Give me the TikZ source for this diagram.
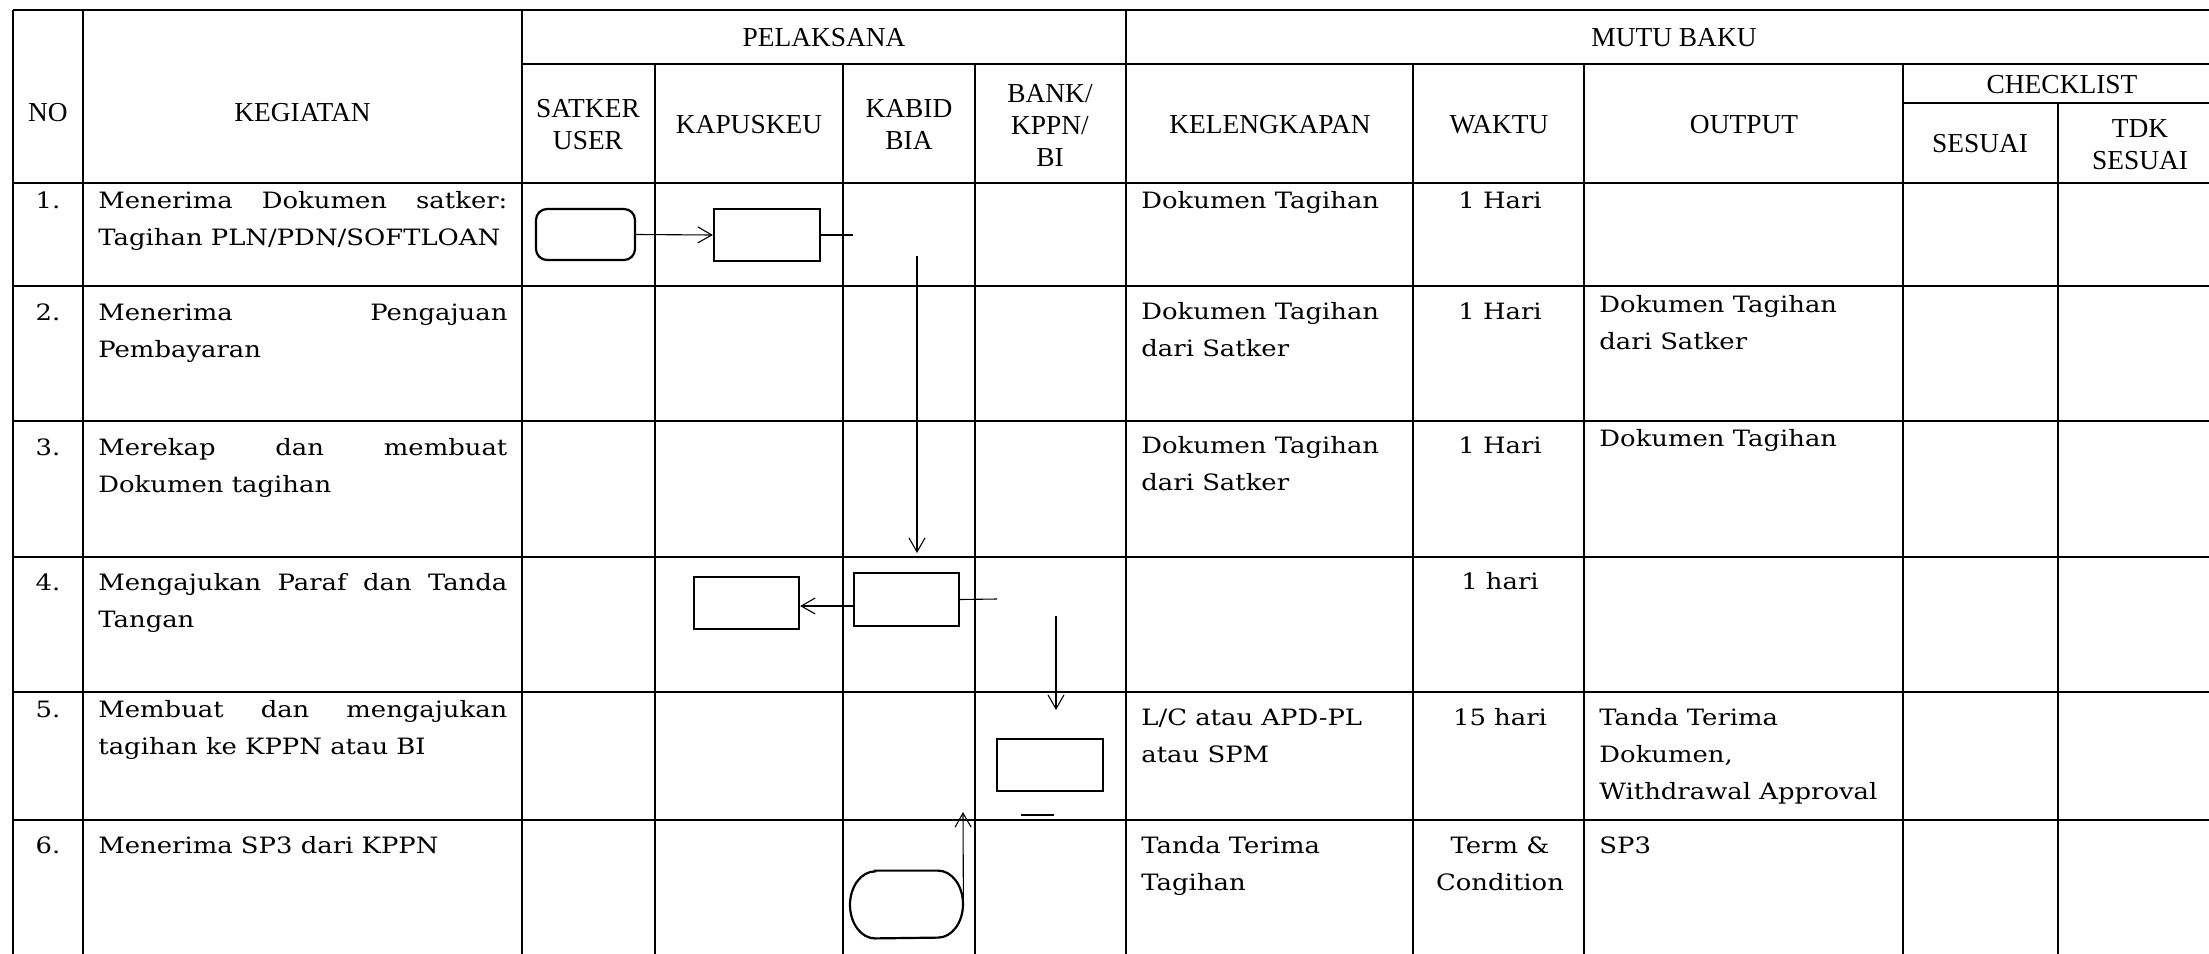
\documentclass[tikz,border=0pt]{standalone}
\usepackage{fontspec}
\setmainfont{Liberation Serif}
\newfontfamily\bodyf[FakeStretch=1.15]{DejaVu Serif}
\usetikzlibrary{arrows.meta,calc}
\newcommand{\hdf}{\fontsize{13.7}{16}\selectfont}
\newcommand{\bdf}{\bodyf\fontsize{11.25}{18.5}\selectfont}
\newcommand{\lcell}[1]{\vtop{\halign{##\hfil\cr#1\crcr}}}
\newcommand{\ccell}[1]{\vtop{\halign{\hfil##\hfil\cr#1\crcr}}}
\begin{document}
\begin{tikzpicture}[x=0.5pt,y=0.5pt,
  hd/.style={font=\hdf, inner sep=0pt, anchor=base},
  bd/.style={font=\bdf, inner sep=0pt, anchor=base west},
  bdc/.style={font=\bdf, inner sep=0pt, anchor=base},
  tline/.style={line width=0.7pt},
  pbox/.style={draw, line width=1.1pt, inner sep=0pt},
  conn/.style={line width=0.55pt},
  arr/.style={conn, -{Straight Barb[length=7pt,width=8pt]}}]
\useasboundingbox (0,0) rectangle (2209,-953);
\clip (0,0) rectangle (2209,-953);
% grid
\draw[tline] (13,-10) -- (2240,-10);
\draw[tline] (522,-64) -- (2240,-64);
\draw[tline] (1903,-103) -- (2240,-103);
\foreach \y in {183,286,421,557,692,820} \draw[tline] (13,-\y) -- (2240,-\y);
\foreach \x in {13,83,522,1126} \draw[tline] (\x,-10) -- (\x,-970);
\foreach \x in {655,843,975,1413,1584,1903} \draw[tline] (\x,-64) -- (\x,-970);
\draw[tline] (2058,-103) -- (2058,-970);
% headers
\node[hd] (hno) at (48,-121) {NO};
\node[hd] (hkeg) at (302.5,-121) {KEGIATAN};
\node[hd] (hpel) at (824,-46) {PELAKSANA};
\node[hd] (hsat) at (588,-117) {\ccell{SATKER\cr USER}};
\node[hd] (hkap) at (749,-133) {KAPUSKEU};
\node[hd] (hkab) at (909,-117) {\ccell{KABID\cr BIA}};
\node[hd] (hbank) at (1050,-102) {\ccell{BANK/\cr KPPN/\cr BI}};
\node[hd] (hmutu) at (1674,-46) {MUTU BAKU};
\node[hd] (hkel) at (1270,-133) {KELENGKAPAN};
\node[hd] (hwak) at (1499,-133) {WAKTU};
\node[hd] (hout) at (1744,-133) {OUTPUT};
\node[hd] (hchk) at (2062,-93) {CHECKLIST};
\node[hd] (hses) at (1980,-152) {SESUAI};
\node[hd] (htdk) at (2140,-137) {\ccell{TDK\cr SESUAI}};
% numbers
\node[bdc] (n1) at (48,-208) {1.};
\node[bdc] (n2) at (48,-320) {2.};
\node[bdc] (n3) at (48,-455) {3.};
\node[bdc] (n4) at (48,-590) {4.};
\node[bdc] (n5) at (48,-717) {5.};
\node[bdc] (n6) at (48,-853) {6.};
% kegiatan
\node[bd] (g1) at (98,-208) {\lcell{\hbox to 204.5pt{Menerima\hfill Dokumen\hfill satker:}\cr Tagihan PLN/PDN/SOFTLOAN}};
\node[bd] (g2) at (98,-320) {\lcell{\hbox to 204.5pt{Menerima\hfill Pengajuan}\cr Pembayaran}};
\node[bd] (g3) at (98,-455) {\lcell{\hbox to 204.5pt{Merekap\hfill dan\hfill membuat}\cr Dokumen tagihan}};
\node[bd] (g4) at (98,-590) {\lcell{\hbox to 204.5pt{Mengajukan\hfill Paraf\hfill dan\hfill Tanda}\cr Tangan}};
\node[bd] (g5) at (98,-717) {\lcell{\hbox to 204.5pt{Membuat\hfill dan\hfill mengajukan}\cr tagihan ke KPPN atau BI}};
\node[bd] (g6) at (98,-853) {Menerima SP3 dari KPPN};
% kelengkapan
\node[bd] (l1) at (1141,-208) {Dokumen Tagihan};
\node[bd] (l2) at (1141,-319) {\lcell{Dokumen Tagihan\cr dari Satker}};
\node[bd] (l3) at (1141,-453) {\lcell{Dokumen Tagihan\cr dari Satker}};
\node[bd] (l5) at (1141,-725) {\lcell{L/C atau APD-PL\cr atau SPM}};
\node[bd] (l6) at (1141,-853) {\lcell{Tanda Terima\cr Tagihan}};
% waktu
\node[bdc] (w1) at (1500,-208) {1 Hari};
\node[bdc] (w2) at (1500,-319) {1 Hari};
\node[bdc] (w3) at (1500,-453) {1 Hari};
\node[bdc] (w4) at (1500,-589) {1 hari};
\node[bdc] (w5) at (1500,-725) {15 hari};
\node[bdc] (w6) at (1500,-853) {\ccell{Term \&\cr Condition}};
% output
\node[bd] (o2) at (1599,-312) {\lcell{Dokumen Tagihan\cr dari Satker}};
\node[bd] (o3) at (1599,-446) {Dokumen Tagihan};
\node[bd] (o5) at (1599,-725) {\lcell{Tanda Terima\cr Dokumen,\cr Withdrawal Approval}};
\node[bd] (o6) at (1599,-853) {SP3};
% flow shapes
\node[pbox, rounded corners=5.5pt, minimum width=49.5pt, minimum height=25.5pt] (s1) at (585.5,-234.5) {};
\node[pbox, minimum width=53pt, minimum height=26pt] (k1) at (767,-235) {};
\draw[arr] (s1.east) -- (k1.west);
\coordinate (c1) at (853,-235);
\draw[conn] (k1.east) -- (c1);
\coordinate (c2) at (917,-256);
\coordinate (c3) at (917,-553);
\draw[arr] (c2) -- (c3);
\node[pbox, minimum width=52.5pt, minimum height=26pt] (k4) at (746.5,-603) {};
\node[pbox, minimum width=52.5pt, minimum height=26.5pt] (b4) at (906.5,-599.5) {};
\draw[arr] (b4.west |- 0,-606) -- (k4.east |- 0,-606);
\coordinate (c4) at (997,-599);
\draw[conn] (b4.east) -- (c4);
\coordinate (c5) at (1056,-616);
\coordinate (c6) at (1056,-710);
\draw[arr] (c5) -- (c6);
\node[pbox, minimum width=53pt, minimum height=26pt] (bk5) at (1050,-765) {};
\coordinate (c7) at (1021,-815);
\coordinate (c8) at (1054,-815);
\draw[tline] (c7) -- (c8);
\node[inner sep=0pt, minimum width=56.5pt, minimum height=33.5pt] (t6) at (906.5,-904.5) {};
\draw[line width=1.1pt] ($(t6.north)+(-31.5,0)$) -- ($(t6.north)+(31.5,0)$)
  arc[start angle=90,end angle=-90,x radius=12.5pt,y radius=16.75pt]
  -- ($(t6.south)+(-31.5,0)$)
  arc[start angle=270,end angle=90,x radius=12.5pt,y radius=16.75pt] -- cycle;
\coordinate (c10) at (963,-812);
\draw[arr] (t6.east) -- (c10);
\end{tikzpicture}
\end{document}
